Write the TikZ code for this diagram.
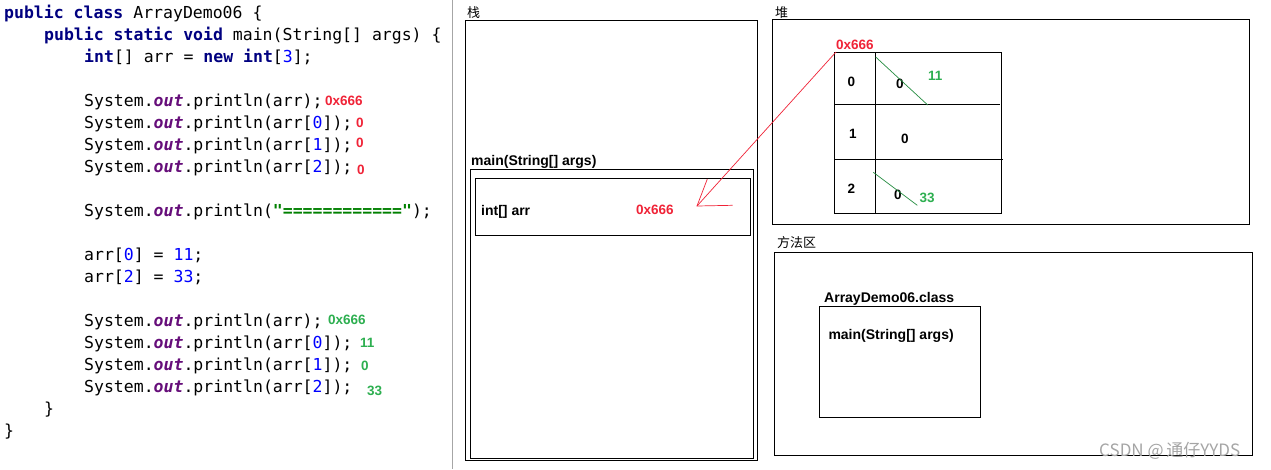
\documentclass[tikz,border=0pt]{standalone}
\usepackage{fontspec}
\setmonofont{DejaVu Sans Mono}
\setsansfont{Liberation Sans}
\newfontfamily\cjk{Noto Sans CJK SC}
\definecolor{kwblue}{RGB}{0,0,128}
\definecolor{numblue}{RGB}{0,0,255}
\definecolor{strgreen}{RGB}{0,128,0}
\definecolor{outpurple}{RGB}{102,14,122}
\definecolor{annred}{RGB}{240,35,55}
\definecolor{anngreen}{RGB}{45,175,80}
\definecolor{wmgray}{RGB}{165,165,165}
\newcommand{\kwd}[1]{\textcolor{kwblue}{\bfseries #1}}
\newcommand{\outf}{\textcolor{outpurple}{\bfseries\itshape out}}
\newcommand{\numc}[1]{\textcolor{numblue}{#1}}
\begin{document}
\begin{tikzpicture}[x=1pt,y=-1pt,
  code/.style={anchor=base west,inner sep=0pt,font=\ttfamily\fontsize{16.5}{20}\selectfont},
  ann/.style={anchor=base west,inner sep=0pt,font=\sffamily\bfseries\fontsize{13.5}{15}\selectfont},
  lbl/.style={anchor=base west,inner sep=0pt,font=\sffamily\bfseries\fontsize{14}{16}\selectfont},
  cjklbl/.style={anchor=base west,inner sep=0pt,font=\cjk\fontsize{13}{15}\selectfont},
  box/.style={draw=black,line width=1pt,anchor=north west,inner sep=0pt},
  redline/.style={draw=annred,line width=0.7pt},
  greenline/.style={draw=anngreen!80!black,line width=0.7pt}]
\useasboundingbox (0,0) rectangle (1271,469);
\fill[white] (0,0) rectangle (1271,469);
% separator
\draw[gray!70,line width=0.8pt] (452,0) -- (452,469);
% ---------- code ----------
\node[code] (c1) at (4,18) {\kwd{public} \kwd{class} ArrayDemo06 \{};
\node[code] (c2) at (44,40) {\kwd{public} \kwd{static} \kwd{void} main(String[] args) \{};
\node[code] (c3) at (84,62) {\kwd{int}[] arr = \kwd{new} \kwd{int}[\numc{3}];};
\node[code] (c4) at (84,106) {System.\outf.println(arr);};
\node[code] (c5) at (84,128) {System.\outf.println(arr[\numc{0}]);};
\node[code] (c6) at (84,150) {System.\outf.println(arr[\numc{1}]);};
\node[code] (c7) at (84,172) {System.\outf.println(arr[\numc{2}]);};
\node[code] (c8) at (84,216) {System.\outf.println(\textcolor{strgreen}{\bfseries"============"});};
\node[code] (c9) at (84,260) {arr[\numc{0}] = \numc{11};};
\node[code] (c10) at (84,282) {arr[\numc{2}] = \numc{33};};
\node[code] (c11) at (84,326) {System.\outf.println(arr);};
\node[code] (c12) at (84,348) {System.\outf.println(arr[\numc{0}]);};
\node[code] (c13) at (84,370) {System.\outf.println(arr[\numc{1}]);};
\node[code] (c14) at (84,392) {System.\outf.println(arr[\numc{2}]);};
\node[code] (c15) at (44,414) {\}};
\node[code] (c16) at (4,436) {\}};
% annotations
\node[ann,text=annred] (a4) at (325,105) {0x666};
\node[ann,text=annred] (a5) at (356,127) {0};
\node[ann,text=annred] (a6) at (356,147) {0};
\node[ann,text=annred] (a7) at (357,174) {0};
\node[ann,text=anngreen] (a11) at (328,324) {0x666};
\node[ann,text=anngreen] (a12) at (360,347) {11};
\node[ann,text=anngreen] (a13) at (361,370) {0};
\node[ann,text=anngreen] (a14) at (367,395) {33};
% ---------- stack ----------
\node[cjklbl] (stacklbl) at (467,17) {栈};
\node[box,minimum width=292,minimum height=440] (stack) at (465,20) {};
\node[lbl] (mainlbl) at (471,165.5) {main(String[] args)};
\node[box,minimum width=283,minimum height=288.5] (frame) at (470.3,169.3) {};
\node[box,minimum width=275,minimum height=56.7] (var) at (474.7,178.3) {};
\node[lbl] (varname) at (481,215.5) {int[] arr};
\node[ann,text=annred] (varval) at (636,214.5) {0x666};
% ---------- heap ----------
\node[cjklbl] (heaplbl) at (775,17) {堆};
\node[box,minimum width=477.5,minimum height=204.7] (heap) at (771.7,19.3) {};
\node[ann,text=annred] (addr) at (836,49) {0x666};
\node[box,minimum width=167,minimum height=161] (arr) at (834.3,52.3) {};
\draw[line width=1pt] (875.3,52.3) -- (875.3,214.3);
\draw[line width=1pt] (834.3,104.3) -- (1000.3,104.3);
\draw[line width=1pt] (834.3,159.3) -- (1002.7,159.3);
\node[ann] (i0) at (847.5,86) {0};
\node[ann] (i1) at (849,138) {1};
\node[ann] (i2) at (847.5,193.5) {2};
\node[ann] (v0) at (896,88) {0};
\node[ann] (v1) at (901,143) {0};
\node[ann] (v2) at (894,199.5) {0};
\node[ann,text=anngreen] (n11) at (928,80) {11};
\node[ann,text=anngreen] (n33) at (919.5,202) {33};
\draw[greenline] (875.7,57) -- (927.7,105);
\draw[greenline] (873.3,172.3) -- (917.3,205.3);
% reference arrow
\coordinate (from) at (836,52);
\coordinate (tip) at (697,206);
\coordinate (wingA) at (707.3,179);
\coordinate (wingB) at (732.7,205.3);
\draw[redline] (from) -- (tip);
\draw[redline] (wingA) -- (tip) -- (wingB);
% ---------- method area ----------
\node[cjklbl] (methlbl) at (777,247) {方法区};
\node[box,minimum width=477.4,minimum height=203] (meth) at (774.3,252.3) {};
\node[lbl] (clslbl) at (824,302.5) {ArrayDemo06.class};
\node[box,minimum width=161,minimum height=111] (cls) at (819.3,306.3) {};
\node[lbl] (clsmain) at (828.3,339) {main(String[] args)};
% watermark
\node[anchor=base west,inner sep=0pt,text=wmgray,font=\cjk\fontsize{17}{19}\selectfont] (wm) at (1099,456) {CSDN @\,通仔YYDS};
\end{tikzpicture}
\end{document}
